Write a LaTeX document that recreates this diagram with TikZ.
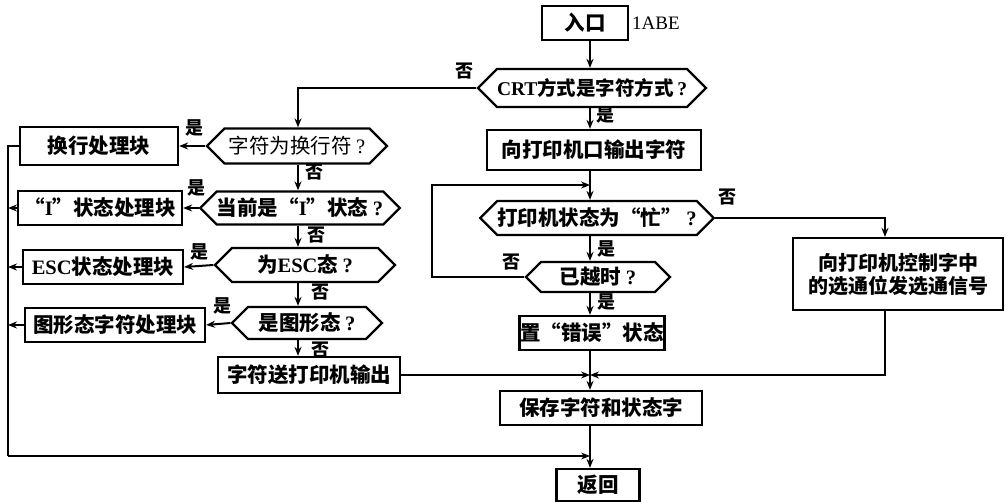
\documentclass[tikz,border=0pt]{standalone}
\usepackage{fontspec}
\setmainfont{Liberation Serif}
\newfontfamily\cjk{Noto Sans CJK SC}
\newfontfamily\lat{Liberation Serif}
\usetikzlibrary{shapes.symbols,arrows.meta}
\tikzset{
 box/.style={draw, line width=2.2pt, inner sep=0pt, font=\cjk\bfseries\fontsize{20.5}{24}\selectfont},
 dec/.style={signal, signal to=west and east, draw, line width=2.2pt, inner sep=0pt, font=\cjk\bfseries\fontsize{20.5}{24}\selectfont},
 lab/.style={font=\cjk\bfseries\fontsize{18}{20}\selectfont, inner sep=0pt},
 ln/.style={line width=2pt},
 arr/.style={ln, -{Stealth[length=9pt,width=7pt]}},
}
\begin{document}
\begin{tikzpicture}[x=1pt,y=-1pt]
\useasboundingbox (0,0) rectangle (1006,502);
\coordinate (mx) at (590,0);
\coordinate (lx) at (298,0);
\coordinate (rx) at (885,0);
% main column
\node[box, minimum width=86pt, minimum height=34pt] (entry) at (585,23) {入口};
\node[font=\lat\fontsize{19}{22}\selectfont, anchor=west, inner sep=0pt] (addr) at (632,23) {1ABE};
\node[dec, minimum width=212pt, minimum height=38pt, font=\cjk\bfseries\fontsize{19.5}{24}\selectfont] (crt) at (592,88) {{\lat CRT}方式是字符方式{\lat\,?}};
\node[box, minimum width=214pt, minimum height=40pt] (out) at (594,150) {向打印机口输出字符};
\node[dec, minimum width=226pt, minimum height=34pt] (busy) at (597,218) {打印机状态为“忙” {\lat ?}};
\node[box, minimum width=210pt, minimum height=72pt, align=center, font=\cjk\bfseries\fontsize{20}{23}\selectfont] (ctl) at (898,274) {向打印机控制字中\\的选通位发选通信号};
\node[dec, minimum width=144pt, minimum height=30pt] (tmo) at (598,277) {已越时 {\lat ?}};
\node[box, minimum width=145pt, minimum height=34pt] (err) at (592,333) {置“错误”状态};
\node[box, minimum width=202pt, minimum height=34pt] (save) at (601,408) {保存字符和状态字};
\node[box, minimum width=83pt, minimum height=32pt] (ret) at (598,485) {返回};
% left column
\node[dec, minimum width=180pt, minimum height=35pt, font=\cjk\fontsize{20.5}{24}\selectfont] (nl) at (297,146) {字符为换行符 {\lat ?}};
\node[box, minimum width=158pt, minimum height=38pt] (nlb) at (99,146) {换行处理块};
\node[dec, minimum width=172pt, minimum height=33pt] (ist) at (300,208) {当前是“{\lat I}”状态 {\lat ?}};
\node[box, minimum width=164pt, minimum height=34pt] (istb) at (100,208) {“{\lat I}”状态处理块};
\node[dec, minimum width=180pt, minimum height=34pt] (esc) at (305,265) {为{\lat ESC}态 {\lat ?}};
\node[box, minimum width=160pt, minimum height=34pt] (escb) at (103,267) {{\lat\bfseries ESC}状态处理块};
\node[dec, minimum width=150pt, minimum height=32pt] (gfx) at (307,323) {是图形态 {\lat ?}};
\node[box, minimum width=180pt, minimum height=34pt] (gfxb) at (115,325) {图形态字符处理块};
\node[box, minimum width=182pt, minimum height=36pt] (prt) at (309,375) {字符送打印机输出};
% junction coordinates
\coordinate (jtop) at (590,185);
\coordinate (jmid) at (590,375);
\coordinate (jbot) at (590,456);
\coordinate (loopx) at (432,185);
\coordinate (leftx) at (8,456);
% connectors main
\draw[arr] (entry.south -| mx) -- (crt.north -| mx);
\draw[arr] (crt.south -| mx) -- (out.north -| mx);
\draw[ln] (out.south -| mx) -- (jtop);
\draw[arr] (jtop) -- (busy.north -| mx);
\draw[arr] (busy.east) -| (ctl.north -| rx);
\draw[arr] (busy.south -| mx) -- (tmo.north -| mx);
\draw[arr] (tmo.west) -| (loopx) -- (jtop);
\draw[arr] (tmo.south -| mx) -- (err.north -| mx);
\draw[ln] (err.south -| mx) -- (jmid);
\draw[arr] (jmid) -- (save.north -| mx);
\draw[arr] (ctl.south -| rx) |- (jmid);
\draw[arr] (prt.east) -- (jmid);
\draw[ln] (save.south -| mx) -- (jbot);
\draw[arr] (jbot) -- (ret.north -| mx);
% connectors left
\draw[arr] (crt.west) -| (nl.north -| lx);
\draw[arr] (nl.west) -- (nlb.east);
\draw[arr] (nl.south -| lx) -- (ist.north -| lx);
\draw[arr] (ist.west) -- (istb.east);
\draw[arr] (ist.south -| lx) -- (esc.north -| lx);
\draw[arr] (esc.west) -- (escb.east);
\draw[arr] (esc.south -| lx) -- (gfx.north -| lx);
\draw[arr] (gfx.west) -- (gfxb.east);
\draw[arr] (gfx.south -| lx) -- (prt.north -| lx);
\draw[ln] (nlb.west) -| (leftx);
\draw[arr] (leftx) -- (jbot);
\draw[arr] (istb.west) -- (istb.west -| leftx);
\draw[arr] (escb.west) -- (escb.west -| leftx);
\draw[arr] (gfxb.west) -- (gfxb.west -| leftx);
% labels
\node[lab] (l1) at (464,71) {否};
\node[lab] (l2) at (605,115) {是};
\node[lab] (l3) at (727,197) {否};
\node[lab] (l4) at (606,249) {是};
\node[lab] (l5) at (511,262) {否};
\node[lab] (l6) at (606,302) {是};
\node[lab] (l7) at (194,128) {是};
\node[lab] (l8) at (314,172) {否};
\node[lab] (l9) at (196,188) {是};
\node[lab] (l10) at (316,235) {否};
\node[lab] (l11) at (199,252) {是};
\node[lab] (l12) at (320,292) {否};
\node[lab] (l13) at (222,306) {是};
\node[lab] (l14) at (320,350) {否};
\end{tikzpicture}
\end{document}
